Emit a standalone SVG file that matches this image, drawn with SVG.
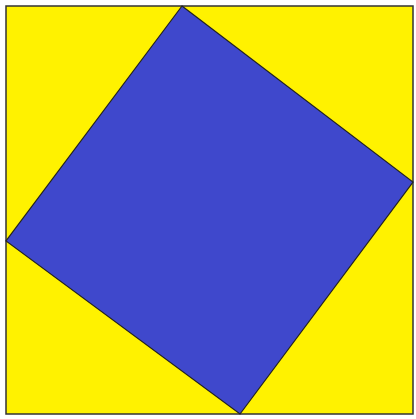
<svg xmlns="http://www.w3.org/2000/svg" width="416" height="419" viewBox="0 0 416 419">
<style>
.outer{fill:#fff200;stroke:#333;stroke-width:1.5}
.inner{fill:#3f48cc;stroke:#222;stroke-width:1.2;stroke-linejoin:miter}
</style>
<rect width="416" height="419" fill="#ffffff"/>
<g id="outer-square"><rect class="outer" x="6" y="6" width="407" height="408"/></g>
<g id="inner-square"><polygon class="inner" points="182,6 413,182 240,414 6,241"/></g>
</svg>
